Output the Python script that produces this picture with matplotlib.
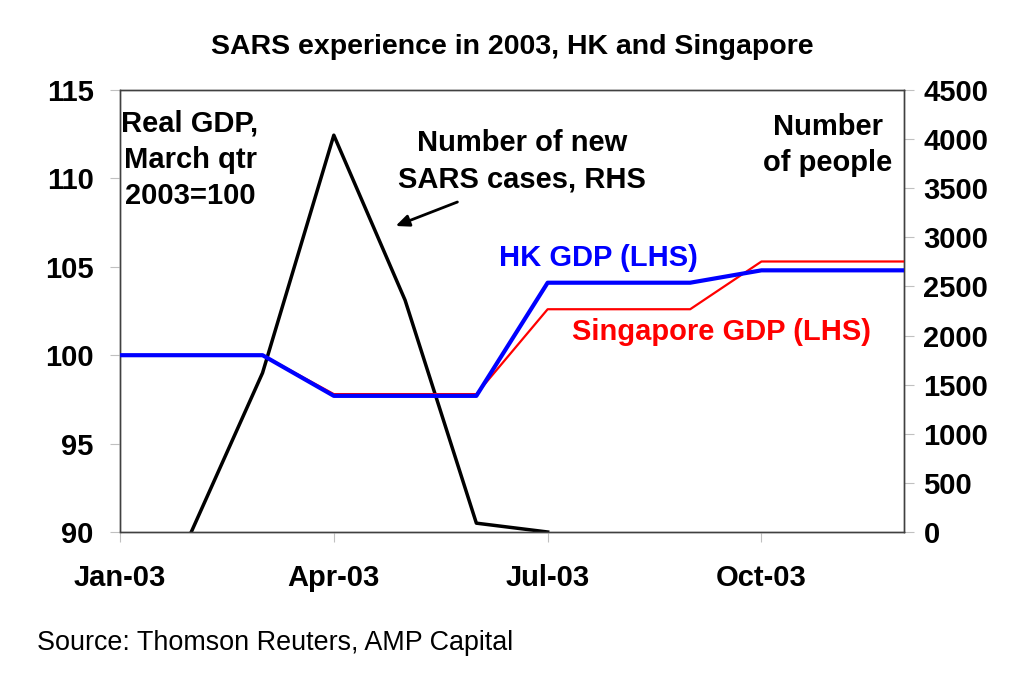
import matplotlib
matplotlib.use("Agg")
import matplotlib.pyplot as plt
import numpy as np

plt.rcParams['font.family'] = ['Liberation Sans', 'DejaVu Sans']

# months Jan-03 .. Dec-03
months = list(range(12))
tick_pos = [0, 3, 6, 9]
tick_labels = ['Jan-03', 'Apr-03', 'Jul-03', 'Oct-03']

hk_gdp = [100, 100, 100, 97.7, 97.7, 97.7, 104.1, 104.1, 104.1, 104.8, 104.8, 104.8]
sg_gdp = [100, 100, 100, 97.8, 97.8, 97.8, 102.6, 102.6, 102.6, 105.3, 105.3, 105.3]
sars_cases = [np.nan, 0, 1620, 4040, 2360, 90, 0, np.nan, np.nan, np.nan, np.nan, np.nan]

fig = plt.figure(figsize=(10.24, 6.79), dpi=100)
ax = fig.add_axes([120/1024, 1-532/679, 784/1024, 442/679])
ax2 = ax.twinx()

ax2.plot(months, sars_cases, color='black', lw=2.5, zorder=2)
ax.plot(months, sg_gdp, color='#ff0000', lw=1.6, zorder=3)
ax.plot(months, hk_gdp, color='#0000ff', lw=3.0, zorder=4)
ax.set_zorder(ax2.get_zorder() + 1)
ax.patch.set_visible(False)

ax.set_xlim(0, 11)
ax.set_ylim(90, 115)
ax.set_yticks([90, 95, 100, 105, 110, 115])
ax2.set_ylim(0, 4500)
ax2.set_yticks(range(0, 4501, 500))
ax.set_xticks(tick_pos)
ax.set_xticklabels(tick_labels)

for a in (ax, ax2):
    for s in a.spines.values():
        s.set_color('#404040')
        s.set_linewidth(1.0)
    a.tick_params(axis='both', direction='out', length=7, width=0.8, color='#c0c0c0',
                  labelsize=21, pad=7)
    for lab in a.get_xticklabels() + a.get_yticklabels():
        lab.set_fontweight('bold')
ax.tick_params(axis='x', pad=16)
ax.tick_params(axis='y', pad=12)

fig.text(0.5, 1-47/679, 'SARS experience in 2003, HK and Singapore', ha='center', va='center',
         fontsize=20.5, fontweight='bold')

ax.text(190/1024, 1-160/679, 'Real GDP,\nMarch qtr\n2003=100', transform=fig.transFigure,
        ha='center', va='center', fontsize=21, fontweight='bold', linespacing=1.38)
ax.text(522/1024, 1-161/679, 'Number of new\nSARS cases, RHS', transform=fig.transFigure,
        ha='center', va='center', fontsize=21, fontweight='bold', linespacing=1.38)
ax.text(828/1024, 1-145/679, 'Number\nof people', transform=fig.transFigure,
        ha='center', va='center', fontsize=21, fontweight='bold', linespacing=1.38)
ax.text(598/1024, 1-258/679, 'HK GDP (LHS)', transform=fig.transFigure,
        ha='center', va='center', fontsize=21, fontweight='bold', color='#0000ff')
ax.text(721/1024, 1-332/679, 'Singapore GDP (LHS)', transform=fig.transFigure,
        ha='center', va='center', fontsize=21, fontweight='bold', color='#ff0000')
ax.annotate('', xy=(393/1024, 1-227/679), xytext=(460/1024, 1-201/679),
            xycoords='figure fraction', textcoords='figure fraction',
            arrowprops=dict(arrowstyle='-|>,head_length=0.8,head_width=0.35', color='black', lw=2))

fig.text(37/1024, 1-643/679, 'Source: Thomson Reuters, AMP Capital', ha='left', va='center',
         fontsize=19.4)

fig.savefig('out.png', dpi=100)
